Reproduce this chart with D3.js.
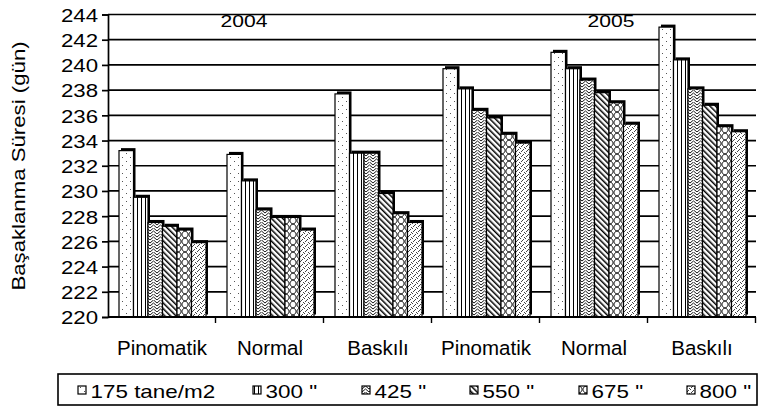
<!DOCTYPE html>
<html>
<head>
<meta charset="utf-8">
<script src="https://cdn.jsdelivr.net/npm/d3@7"></script>
<style>
  body { margin: 0; background: #fff; }
  svg text { font-family: "Liberation Sans", Arial, sans-serif; fill: #000; }
</style>
</head>
<body>
<svg id="chart" width="759" height="407"></svg>
<script>
// categories and years
var categories = ["Pinomatik", "Normal", "Baskılı", "Pinomatik", "Normal", "Baskılı"];
var years = ["2004", "2005"];
var seriesNames = ['175 tane/m2', '300 "', '425 "', '550 "', '675 "', '800 "'];

// values per sowing density, one per category
var s175 = [233.2, 232.9, 237.7, 239.7, 241.0, 243.0];
var s300 = [229.5, 230.8, 233.0, 238.1, 239.7, 240.4];
var s425 = [227.5, 228.5, 233.0, 236.4, 238.8, 238.1];
var s550 = [227.2, 227.9, 229.8, 235.8, 237.8, 236.8];
var s675 = [226.9, 227.9, 228.2, 234.5, 237.0, 235.1];
var s800 = [225.9, 226.9, 227.5, 233.8, 235.3, 234.7];
var series = [s175, s300, s425, s550, s675, s800];

var yTicks = d3.range(220, 245, 2);

var svg = d3.select("#chart");
var plotL = 108, plotR = 756, plotT = 14.5, plotB = 317;

var y = d3.scaleLinear().domain([220, 244]).range([plotB, plotT]);
var x = d3.scaleBand().domain(d3.range(categories.length)).range([plotL, plotR]).padding(0);
var xs = d3.scaleBand().domain(d3.range(series.length)).range([11, 98]).padding(0);

// the source font is wider than Liberation Sans, so widen glyphs a bit
function stretch(sel, k) {
  sel.each(function() {
    var len = this.getComputedTextLength();
    d3.select(this).attr("textLength", len * k).attr("lengthAdjust", "spacingAndGlyphs");
  });
}

// fill patterns
var defs = svg.append("defs");
function pat(id, w, h, tr) {
  var p = defs.append("pattern").attr("id", id)
      .attr("patternUnits", "userSpaceOnUse")
      .attr("width", w).attr("height", h);
  if (tr) p.attr("patternTransform", tr);
  p.append("rect").attr("width", w).attr("height", h).attr("fill", "#fff");
  return p;
}
var p0 = pat("p0", 8, 8);
p0.append("rect").attr("x", 2).attr("y", 1).attr("width", 1).attr("height", 1).attr("fill", "#555");
p0.append("rect").attr("x", 6).attr("y", 5).attr("width", 1).attr("height", 1).attr("fill", "#555");

var p1 = pat("p1", 4, 4);
p1.append("rect").attr("x", 1).attr("y", 0).attr("width", 1).attr("height", 4).attr("fill", "#000");

var p2 = pat("p2", 7, 6);
p2.append("path").attr("d", "M0,3 L3.5,0 L7,3 M0,6 L3.5,3 L7,6")
  .attr("stroke", "#000").attr("stroke-width", 0.9).attr("fill", "none");

var p3 = pat("p3", 4, 4, "rotate(-45)");
p3.append("rect").attr("x", 0).attr("y", 0).attr("width", 1.5).attr("height", 4).attr("fill", "#000");

var p4 = pat("p4", 7, 7);
p4.append("path").attr("d", "M0,0 C4,1 4,6 0,7 M7,0 C3,1 3,6 7,7")
  .attr("stroke", "#000").attr("stroke-width", 1).attr("fill", "none");

var p5 = pat("p5", 5, 5);
[[0, 0], [2, 2], [4, 1], [1, 4], [3, 3]].forEach(function(d) {
  p5.append("rect").attr("x", d[0]).attr("y", d[1]).attr("width", 1).attr("height", 1).attr("fill", "#444");
});
var fills = ["url(#p0)", "url(#p1)", "url(#p2)", "url(#p3)", "url(#p4)", "url(#p5)"];

// grid lines
svg.append("g").selectAll("line")
    .data(yTicks.slice(1))
  .enter().append("line")
    .attr("x1", plotL).attr("x2", plotR)
    .attr("y1", function(d) { return y(d); })
    .attr("y2", function(d) { return y(d); })
    .attr("stroke", "#000").attr("stroke-width", 1.7);

// bars
var groups = svg.append("g").selectAll("g")
    .data(categories)
  .enter().append("g")
    .attr("transform", function(d, i) { return "translate(" + x(i) + ",0)"; });

groups.each(function(c, ci) {
  var g = d3.select(this);
  var vals = series.map(function(s, si) { return {si: si, v: s[ci]}; });
  g.selectAll("rect.shadow").data(vals).enter().append("rect")
      .attr("class", "shadow")
      .attr("x", function(d) { return xs(d.si) + 2; })
      .attr("y", function(d) { return y(d.v) - 2.5; })
      .attr("width", xs.bandwidth())
      .attr("height", function(d) { return plotB - y(d.v); })
      .attr("fill", "#000");
  g.selectAll("rect.bar").data(vals).enter().append("rect")
      .attr("class", "bar")
      .attr("x", function(d) { return xs(d.si); })
      .attr("y", function(d) { return y(d.v); })
      .attr("width", xs.bandwidth())
      .attr("height", function(d) { return plotB - y(d.v); })
      .attr("fill", function(d) { return fills[d.si]; })
      .attr("stroke", "#000").attr("stroke-width", 1.2);
});

// y axis
var yAxis = svg.append("g")
    .attr("transform", "translate(" + plotL + ",0)")
    .call(d3.axisLeft(y).tickValues(yTicks).tickSize(6).tickPadding(4).tickFormat(d3.format("d")));
yAxis.select(".domain").attr("stroke", "#000").attr("stroke-width", 1.7);
yAxis.selectAll(".tick line").attr("stroke", "#000").attr("stroke-width", 1.7);
yAxis.selectAll(".tick text")
    .attr("font-family", null)
    .attr("font-size", null)
    .style("font-size", "19px")
    .attr("dy", "0.36em")
    .call(stretch, 1.17);

// x axis
svg.append("line")
    .attr("x1", plotL).attr("x2", plotR)
    .attr("y1", plotB).attr("y2", plotB)
    .attr("stroke", "#000").attr("stroke-width", 2.2);
svg.append("g").selectAll("line")
    .data(d3.range(1, categories.length + 1))
  .enter().append("line")
    .attr("x1", function(d) { return plotL + d * x.bandwidth() - 0.5; })
    .attr("x2", function(d) { return plotL + d * x.bandwidth() - 0.5; })
    .attr("y1", plotB).attr("y2", plotB + 6)
    .attr("stroke", "#000").attr("stroke-width", 1.4);
svg.append("g").selectAll("text")
    .data(categories)
  .enter().append("text")
    .attr("x", function(d, i) { return x(i) + x.bandwidth() / 2; })
    .attr("y", 355)
    .attr("text-anchor", "middle")
    .style("font-size", "20.5px")
    .text(function(d) { return d; });

// year labels
var yearX = [244, 611];
svg.append("g").selectAll("text")
    .data(years)
  .enter().append("text")
    .attr("x", function(d, i) { return yearX[i]; })
    .attr("y", 27)
    .attr("text-anchor", "middle")
    .style("font-size", "17px")
    .text(function(d) { return d; })
    .call(stretch, 1.24);

// y title
svg.append("text")
    .attr("transform", "translate(25,166) rotate(-90)")
    .attr("text-anchor", "middle")
    .style("font-size", "18.5px")
    .text("Başaklanma Süresi (gün)")
    .call(stretch, 1.2);

// legend
svg.append("rect")
    .attr("x", 58).attr("y", 374).attr("width", 699).attr("height", 31)
    .attr("fill", "#fff").attr("stroke", "#000").attr("stroke-width", 1.6);
var legendX = [78, 253, 362, 470, 579, 687];
var leg = svg.append("g").selectAll("g")
    .data(seriesNames)
  .enter().append("g")
    .attr("transform", function(d, i) { return "translate(" + legendX[i] + ",386)"; });
leg.append("rect")
    .attr("width", 8).attr("height", 8)
    .attr("fill", function(d, i) { return fills[i]; })
    .attr("stroke", "#000").attr("stroke-width", 1.2);
leg.append("text")
    .attr("x", 12.5).attr("y", 11.5)
    .style("font-size", "19px")
    .text(function(d) { return d; })
    .call(stretch, 1.18);
</script>
</body>
</html>
